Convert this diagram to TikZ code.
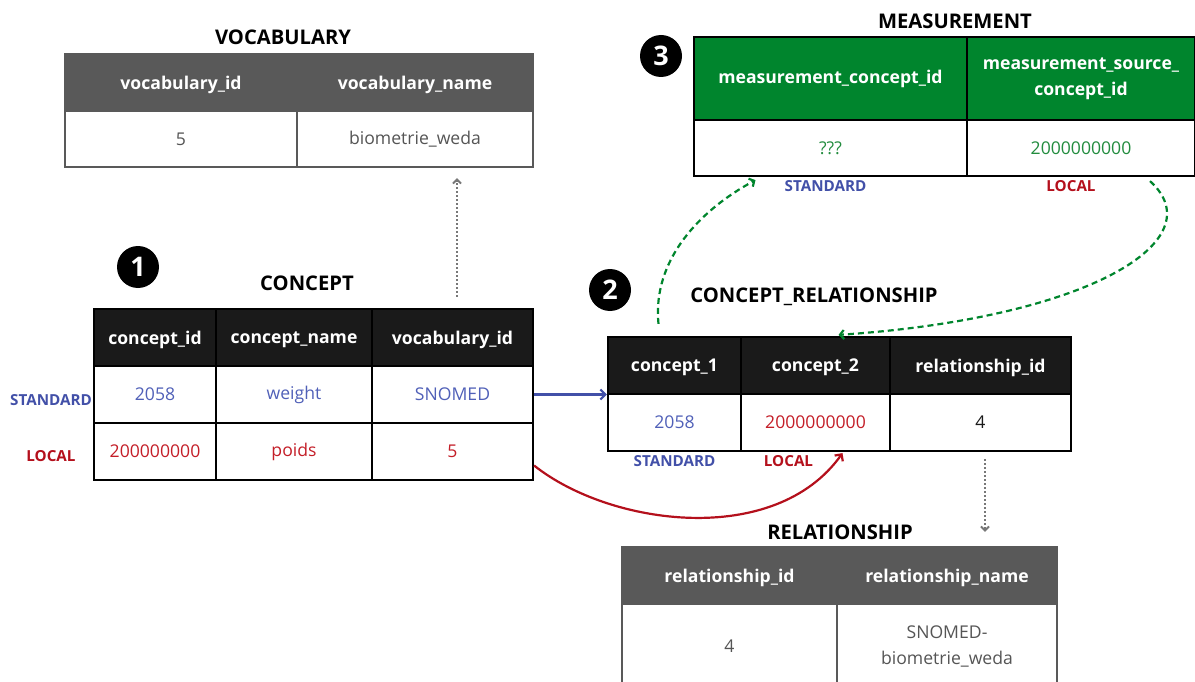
\documentclass[tikz,border=0pt]{standalone}
\usepackage{fontspec}
\setmainfont{Open Sans}
\usetikzlibrary{positioning,arrows.meta}

\definecolor{headblack}{RGB}{26,26,26}
\definecolor{headgray}{RGB}{89,89,89}
\definecolor{headgreen}{RGB}{0,133,45}
\definecolor{stdblue}{RGB}{66,80,168}
\definecolor{valblue}{RGB}{80,96,184}
\definecolor{locred}{RGB}{180,16,28}
\definecolor{valred}{RGB}{196,30,40}
\definecolor{valgreen}{RGB}{34,140,62}
\definecolor{valgray}{RGB}{85,85,85}
\definecolor{linkgray}{RGB}{120,120,120}

\tikzset{
  cellbox/.style={draw, line width=2.2pt, rectangle, inner sep=2pt, align=center,
    fill=white, font=\fontsize{17.6}{26}\selectfont},
  headbk/.style={cellbox, text depth=0pt, fill=headblack, text=white, font=\bfseries\fontsize{17.6}{26}\selectfont},
  headgr/.style={cellbox, text depth=0pt, draw=headgray, fill=headgray, text=white, font=\bfseries\fontsize{17.6}{26}\selectfont},
  headgn/.style={cellbox, fill=headgreen, text=white, font=\bfseries\fontsize{17.6}{26}\selectfont},
  cellgr/.style={cellbox, draw=headgray, text=valgray},
  tabtitle/.style={font=\bfseries\fontsize{20.2}{24}\selectfont},
  tag/.style={font=\bfseries\fontsize{15.2}{17}\selectfont, inner sep=1pt},
  stepnum/.style={circle, fill=black, text=white, minimum size=42pt, inner sep=0pt,
    font=\bfseries\fontsize{27}{29}\selectfont},
  dotlink/.style={linkgray, dotted, line width=2pt, -{Straight Barb[length=4pt,width=8pt]}},
  stdlink/.style={stdblue, line width=2.2pt, -{Straight Barb[length=5pt,width=10pt]}},
  loclink/.style={locred, line width=2.2pt, -{Straight Barb[length=5pt,width=10pt]}},
  srclink/.style={headgreen, dash pattern=on 6pt off 4pt, line width=2.2pt,
    -{Straight Barb[length=4pt,width=9pt]}}
}

\begin{document}
\begin{tikzpicture}[x=1pt, y=-1pt]
    \useasboundingbox (0,0) rectangle (1195,682);

    % VOCABULARY
    \node[tabtitle] (vtitle) at (283,37) {VOCABULARY};
    \node[headgr, minimum width=232pt, minimum height=57pt] (v-h1) at (181,82.5) {vocabulary\_id};
    \node[headgr, minimum width=236pt, minimum height=57pt] (v-h2) at (415,82.5) {vocabulary\_name};
    \node[cellgr, minimum width=232pt, minimum height=56pt] (v-11) at (181,139) {5};
    \node[cellgr, minimum width=236pt, minimum height=56pt] (v-12) at (415,139) {biometrie\_weda};

    % CONCEPT
    \node[stepnum] (one) at (138,267) {1};
    \node[tabtitle] (ctitle) at (307,283) {CONCEPT};
    \node[headbk, minimum width=122pt, minimum height=57pt] (c-h1) at (155,337.5) {concept\_id};
    \node[headbk, minimum width=156pt, minimum height=57pt] (c-h2) at (294,337.5) {concept\_name};
    \node[headbk, minimum width=161pt, minimum height=57pt] (c-h3) at (452.5,337.5) {vocabulary\_id};
    \node[cellbox, text=valblue, minimum width=122pt, minimum height=57pt] (c-11) at (155,394.5) {2058};
    \node[cellbox, text=valblue, minimum width=156pt, minimum height=57pt] (c-12) at (294,394.5) {weight};
    \node[cellbox, text=valblue, minimum width=161pt, minimum height=57pt] (c-13) at (452.5,394.5) {SNOMED};
    \node[cellbox, text=valred, minimum width=122pt, minimum height=57pt] (c-21) at (155,451.5) {200000000};
    \node[cellbox, text=valred, minimum width=156pt, minimum height=57pt] (c-22) at (294,451.5) {poids};
    \node[cellbox, text=valred, minimum width=161pt, minimum height=57pt] (c-23) at (452.5,451.5) {5};
    \node[tag, text=stdblue] (c-std) at ([xshift=-104pt,yshift=-6pt]c-11) {STANDARD};
    \node[tag, text=locred] (c-loc) at ([xshift=-104pt,yshift=-5pt]c-21) {LOCAL};

    % CONCEPT_RELATIONSHIP
    \node[stepnum] (two) at (610,290) {2};
    \node[tabtitle] (crtitle) at (814,297) {CONCEPT\_RELATIONSHIP};
    \node[headbk, minimum width=133pt, minimum height=57pt] (cr-h1) at (674.5,365.5) {concept\_1};
    \node[headbk, minimum width=149pt, minimum height=57pt] (cr-h2) at (815.5,365.5) {concept\_2};
    \node[headbk, minimum width=181pt, minimum height=57pt] (cr-h3) at (980.5,365.5) {relationship\_id};
    \node[cellbox, text=valblue, minimum width=133pt, minimum height=57pt] (cr-11) at (674.5,422.5) {2058};
    \node[cellbox, text=valred, minimum width=149pt, minimum height=57pt] (cr-12) at (815.5,422.5) {2000000000};
    \node[cellbox, text=headblack, minimum width=181pt, minimum height=57pt] (cr-13) at (980.5,422.5) {4};
    \node[tag, text=stdblue, below=2pt of cr-11] (cr-std) {STANDARD};
    \node[tag, text=locred, below=2pt of cr-12, xshift=-27pt] (cr-loc) {LOCAL};

    % MEASUREMENT
    \node[stepnum] (three) at (661,56) {3};
    \node[tabtitle] (mtitle) at (955,21) {MEASUREMENT};
    \node[headgn, minimum width=273pt, minimum height=83pt] (m-h1) at (830.5,78.5) {measurement\_concept\_id};
    \node[headgn, minimum width=228pt, minimum height=83pt] (m-h2) at (1081,78.5) {measurement\_source\_\\concept\_id};
    \node[cellbox, text=valgreen, minimum width=273pt, minimum height=56pt] (m-11) at (830.5,148) {???};
    \node[cellbox, text=valgreen, minimum width=228pt, minimum height=56pt] (m-12) at (1081,148) {2000000000};
    \node[tag, text=stdblue, below=2pt of m-11, xshift=-5pt] (m-std) {STANDARD};
    \node[tag, text=locred, below=2pt of m-12, xshift=-10pt] (m-loc) {LOCAL};

    % RELATIONSHIP
    \node[tabtitle] (rtitle) at (840,532) {RELATIONSHIP};
    \node[headgr, minimum width=215pt, minimum height=57pt] (r-h1) at (729.5,575.5) {relationship\_id};
    \node[headgr, minimum width=220pt, minimum height=57pt] (r-h2) at (947,575.5) {relationship\_name};
    \node[cellgr, minimum width=215pt, minimum height=84pt] (r-11) at (729.5,646) {4};
    \node[cellgr, minimum width=220pt, minimum height=84pt] (r-12) at (947,646) {SNOMED-\\biometrie\_weda};

    % links
    \draw[dotlink] ([xshift=4.5pt,yshift=11pt]c-h3.north) -- ([xshift=42pt,yshift=-10pt]v-12.south);
    \draw[dotlink] ([xshift=4.5pt,yshift=-7pt]cr-13.south) -- ([xshift=38pt,yshift=14pt]r-h2.north);
    \draw[stdlink] (c-13.east) -- (c-13.east -| cr-11.west);
    \draw[loclink] ([yshift=-14pt]c-23.east) .. controls (610,526) and (775,548) .. ([xshift=27pt,yshift=-1pt]cr-12.south);
    \draw[srclink] ([xshift=-16pt,yshift=12pt]cr-h1.north) .. controls (652,260) and (700,210) .. ([xshift=-75pt,yshift=-3pt]m-11.south);
    \draw[srclink] ([xshift=69pt,yshift=-4pt]m-12.south) .. controls (1215,240) and (1090,318) .. ([xshift=23pt,yshift=1pt]cr-h2.north);
\end{tikzpicture}
\end{document}
